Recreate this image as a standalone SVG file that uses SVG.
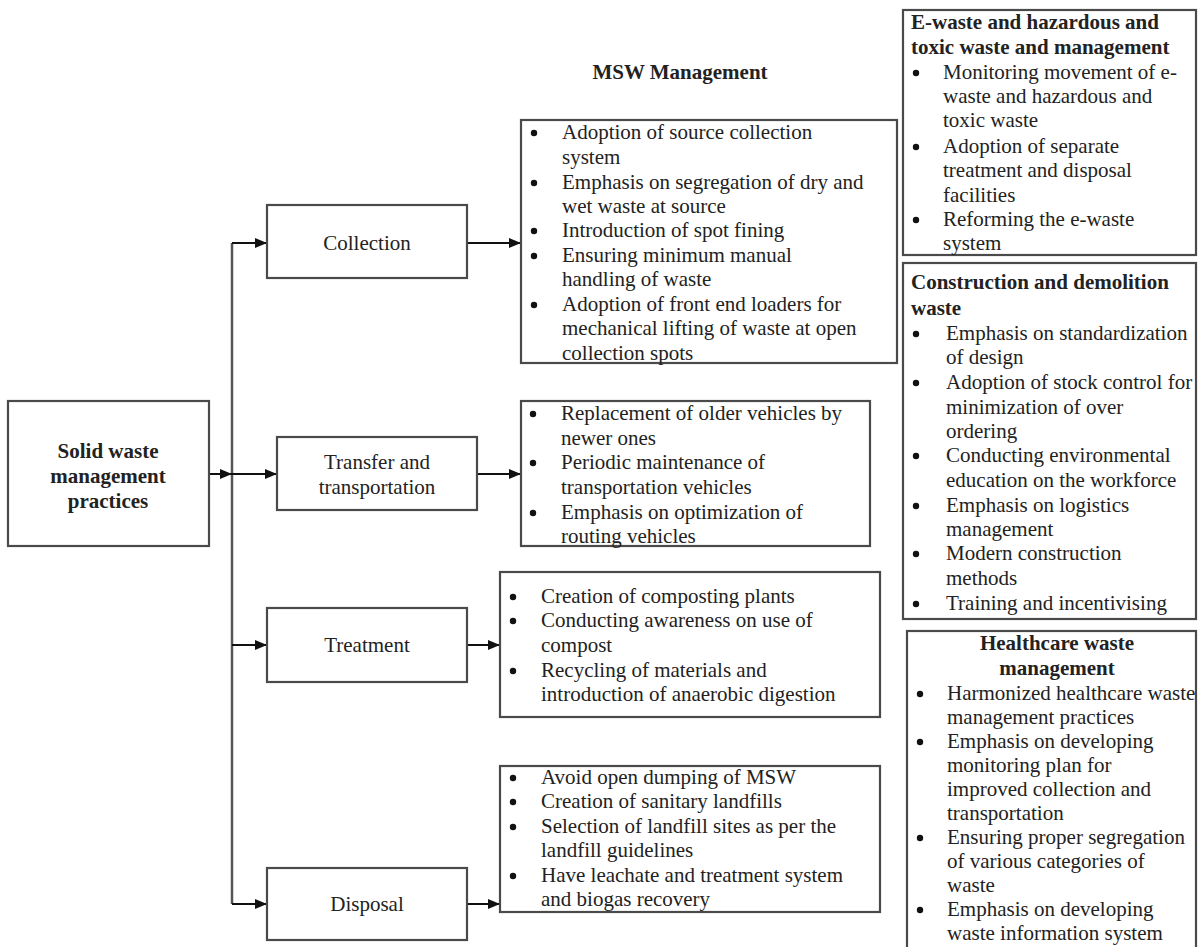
<svg xmlns="http://www.w3.org/2000/svg" width="1198" height="947" viewBox="0 0 1198 947">
<defs>
<marker id="ah" viewBox="0 0 12 10" refX="12" refY="5" markerWidth="12" markerHeight="10" markerUnits="userSpaceOnUse" orient="auto">
<path d="M0,0 L12,5 L0,10 Z" fill="#111"/>
</marker>
</defs>
<style>
.box{fill:#fff;stroke:#4a4a4a;stroke-width:2.2}
.t{font-family:"Liberation Serif","Times New Roman",serif;font-size:21px;fill:#222}
.b{font-weight:bold}
.c{text-anchor:middle}
.conn{fill:none;stroke:#111;stroke-width:2}
.trunk{fill:none;stroke:#555;stroke-width:2.5}
.dot{fill:#111}
</style>
<rect width="1198" height="947" fill="#fff"/>

<g id="title"><text class="t b c" x="680" y="79">MSW Management</text></g>

<g id="connectors">
<path class="trunk" d="M232,243 L232,904"/>
<path class="conn" d="M232,243 L267,243" marker-end="url(#ah)"/>
<path class="conn" d="M209,474 L232,474" marker-end="url(#ah)"/>
<path class="conn" d="M232,474 L277,474" marker-end="url(#ah)"/>
<path class="conn" d="M232,645 L267,645" marker-end="url(#ah)"/>
<path class="conn" d="M232,904 L267,904" marker-end="url(#ah)"/>
<path class="conn" d="M467,243 L521,243" marker-end="url(#ah)"/>
<path class="conn" d="M477,474 L521,474" marker-end="url(#ah)"/>
<path class="conn" d="M467,645 L500,645" marker-end="url(#ah)"/>
<path class="conn" d="M467,904 L500,904" marker-end="url(#ah)"/>
</g>

<g id="solid">
<rect class="box" x="8" y="401" width="201" height="145"/>
<text class="t b c" x="108" y="458">Solid waste</text>
<text class="t b c" x="108" y="483">management</text>
<text class="t b c" x="108" y="508">practices</text>
</g>

<g id="collection">
<rect class="box" x="267" y="205" width="200" height="73"/>
<text class="t c" x="367" y="250">Collection</text>
</g>
<g id="transfer">
<rect class="box" x="277" y="437" width="200" height="73"/>
<text class="t c" x="377" y="469">Transfer and</text>
<text class="t c" x="377" y="494">transportation</text>
</g>
<g id="treatment">
<rect class="box" x="267" y="608" width="200" height="74"/>
<text class="t c" x="367" y="652">Treatment</text>
</g>
<g id="disposal">
<rect class="box" x="267" y="868" width="200" height="72"/>
<text class="t c" x="367" y="911">Disposal</text>
</g>

<g id="collection-actions">
<rect class="box" x="521" y="120" width="376" height="243"/>
<circle class="dot" cx="534" cy="133" r="3.2"/>
<text class="t" x="562" y="139">Adoption of source collection</text>
<text class="t" x="562" y="164">system</text>
<circle class="dot" cx="534" cy="183" r="3.2"/>
<text class="t" x="562" y="189">Emphasis on segregation of dry and</text>
<text class="t" x="562" y="213">wet waste at source</text>
<circle class="dot" cx="534" cy="231" r="3.2"/>
<text class="t" x="562" y="237">Introduction of spot fining</text>
<circle class="dot" cx="534" cy="256" r="3.2"/>
<text class="t" x="562" y="262">Ensuring minimum manual</text>
<text class="t" x="562" y="286">handling of waste</text>
<circle class="dot" cx="534" cy="305" r="3.2"/>
<text class="t" x="562" y="311">Adoption of front end loaders for</text>
<text class="t" x="562" y="335">mechanical lifting of waste at open</text>
<text class="t" x="562" y="360">collection spots</text>
</g>

<g id="transfer-actions">
<rect class="box" x="521" y="401" width="349" height="145"/>
<circle class="dot" cx="533" cy="414" r="3.2"/>
<text class="t" x="561" y="420">Replacement of older vehicles by</text>
<text class="t" x="561" y="445">newer ones</text>
<circle class="dot" cx="533" cy="463" r="3.2"/>
<text class="t" x="561" y="469">Periodic maintenance of</text>
<text class="t" x="561" y="494">transportation vehicles</text>
<circle class="dot" cx="533" cy="513" r="3.2"/>
<text class="t" x="561" y="519">Emphasis on optimization of</text>
<text class="t" x="561" y="543">routing vehicles</text>
</g>

<g id="treatment-actions">
<rect class="box" x="500" y="572" width="380" height="145"/>
<circle class="dot" cx="513" cy="597" r="3.2"/>
<text class="t" x="541" y="603">Creation of composting plants</text>
<circle class="dot" cx="513" cy="621" r="3.2"/>
<text class="t" x="541" y="627">Conducting awareness on use of</text>
<text class="t" x="541" y="652">compost</text>
<circle class="dot" cx="513" cy="671" r="3.2"/>
<text class="t" x="541" y="677">Recycling of materials and</text>
<text class="t" x="541" y="701">introduction of anaerobic digestion</text>
</g>

<g id="disposal-actions">
<rect class="box" x="500" y="766" width="380" height="146"/>
<circle class="dot" cx="513" cy="778" r="3.2"/>
<text class="t" x="541" y="784">Avoid open dumping of MSW</text>
<circle class="dot" cx="513" cy="802" r="3.2"/>
<text class="t" x="541" y="808">Creation of sanitary landfills</text>
<circle class="dot" cx="513" cy="827" r="3.2"/>
<text class="t" x="541" y="833">Selection of landfill sites as per the</text>
<text class="t" x="541" y="857">landfill guidelines</text>
<circle class="dot" cx="513" cy="876" r="3.2"/>
<text class="t" x="541" y="882">Have leachate and treatment system</text>
<text class="t" x="541" y="906">and biogas recovery</text>
</g>

<g id="ewaste">
<rect class="box" x="903" y="10" width="293" height="245"/>
<text class="t b" x="911" y="29">E-waste and hazardous and</text>
<text class="t b" x="911" y="54">toxic waste and management</text>
<circle class="dot" cx="916" cy="73" r="3.2"/>
<text class="t" x="943" y="79">Monitoring movement of e-</text>
<text class="t" x="943" y="103">waste and hazardous and</text>
<text class="t" x="943" y="127">toxic waste</text>
<circle class="dot" cx="916" cy="147" r="3.2"/>
<text class="t" x="943" y="153">Adoption of separate</text>
<text class="t" x="943" y="177">treatment and disposal</text>
<text class="t" x="943" y="202">facilities</text>
<circle class="dot" cx="916" cy="220" r="3.2"/>
<text class="t" x="943" y="226">Reforming the e-waste</text>
<text class="t" x="943" y="250">system</text>
</g>

<g id="construction">
<rect class="box" x="903" y="263" width="293" height="356"/>
<text class="t b" x="911" y="289">Construction and demolition</text>
<text class="t b" x="911" y="315">waste</text>
<circle class="dot" cx="916" cy="334" r="3.2"/>
<text class="t" x="946" y="340">Emphasis on standardization</text>
<text class="t" x="946" y="364">of design</text>
<circle class="dot" cx="916" cy="383" r="3.2"/>
<text class="t" x="946" y="389">Adoption of stock control for</text>
<text class="t" x="946" y="414">minimization of over</text>
<text class="t" x="946" y="438">ordering</text>
<circle class="dot" cx="916" cy="456" r="3.2"/>
<text class="t" x="946" y="462">Conducting environmental</text>
<text class="t" x="946" y="487">education on the workforce</text>
<circle class="dot" cx="916" cy="506" r="3.2"/>
<text class="t" x="946" y="512">Emphasis on logistics</text>
<text class="t" x="946" y="536">management</text>
<circle class="dot" cx="916" cy="554" r="3.2"/>
<text class="t" x="946" y="560">Modern construction</text>
<text class="t" x="946" y="585">methods</text>
<circle class="dot" cx="916" cy="604" r="3.2"/>
<text class="t" x="946" y="610">Training and incentivising</text>
</g>

<g id="healthcare">
<rect class="box" x="907" y="631" width="289" height="340"/>
<text class="t b c" x="1057" y="650">Healthcare waste</text>
<text class="t b c" x="1057" y="675">management</text>
<circle class="dot" cx="920" cy="694" r="3.2"/>
<text class="t" x="947" y="700">Harmonized healthcare waste</text>
<text class="t" x="947" y="724">management practices</text>
<circle class="dot" cx="920" cy="742" r="3.2"/>
<text class="t" x="947" y="748">Emphasis on developing</text>
<text class="t" x="947" y="772">monitoring plan for</text>
<text class="t" x="947" y="796">improved collection and</text>
<text class="t" x="947" y="820">transportation</text>
<circle class="dot" cx="920" cy="838" r="3.2"/>
<text class="t" x="947" y="844">Ensuring proper segregation</text>
<text class="t" x="947" y="868">of various categories of</text>
<text class="t" x="947" y="892">waste</text>
<circle class="dot" cx="920" cy="910" r="3.2"/>
<text class="t" x="947" y="916">Emphasis on developing</text>
<text class="t" x="947" y="940">waste information system</text>
</g>
</svg>
